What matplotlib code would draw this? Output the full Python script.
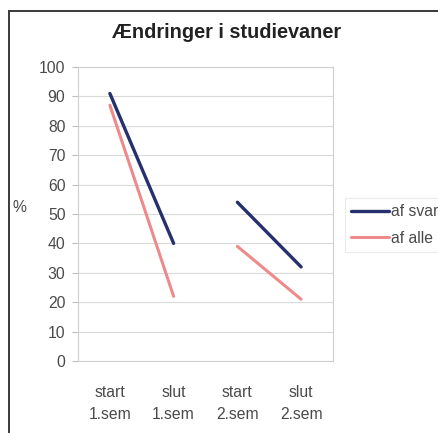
import numpy as np
import matplotlib.pyplot as plt
from matplotlib.patches import Rectangle

plt.rcParams['font.family'] = ['Liberation Sans', 'DejaVu Sans']

categories = ["start\n1.sem", "slut\n1.sem", "start\n2.sem", "slut\n2.sem"]
af_svarende = [91, 40, 54, 32]
af_alle = [87, 22, 39, 21]

W, H = 439, 433
fig = plt.figure(figsize=(W / 100, H / 100), dpi=100)
fig.patch.set_facecolor('white')

# outer chart frame (runs off right and bottom edges)
fig.patches.append(Rectangle((9 / W, -0.1), 1.2, 1 - 11 / H + 0.1,
                             transform=fig.transFigure, fill=False,
                             edgecolor='#3a3a3a', linewidth=1.4))

ax = fig.add_axes([78 / W, 1 - 361 / H, 255 / W, 294 / H])


def with_gap(values):
    # break the line between the two semesters
    v = np.array(values, dtype=float)
    return np.insert(v, 2, np.nan)


xg = with_gap(range(len(categories)))
ax.plot(xg, with_gap(af_svarende), color='#27306e', linewidth=2.4,
        solid_capstyle='round', label='af svarende', zorder=3)
ax.plot(xg, with_gap(af_alle), color='#ee8a8c', linewidth=2.2,
        solid_capstyle='round', label='af alle', zorder=2)

ax.set_xlim(-0.5, 3.5)
ax.set_ylim(0, 100)
ax.set_yticks(range(0, 101, 10))
ax.set_xticks(range(len(categories)))
ax.set_xticklabels(categories, linespacing=1.6)
ax.grid(axis='y', color='#dadada', linewidth=0.8)
ax.set_axisbelow(True)
for s in ax.spines.values():
    s.set_color('#cfcfcf')
    s.set_linewidth(0.8)
ax.tick_params(axis='y', length=4, color='#bfbfbf', pad=5, labelsize=11.3, labelcolor='#4a4a4a')
ax.tick_params(axis='x', length=0, pad=17, labelsize=11.3, labelcolor='#4a4a4a')

fig.text(227 / W, 1 - 33 / H, "Ændringer i studievaner", ha='center', va='center',
         fontsize=14.3, fontweight='bold', color='#222222')
fig.text(19 / W, 1 - 207 / H, "%", ha='center', va='center', fontsize=11.3, color='#4a4a4a')

leg = ax.legend(loc='center left', bbox_to_anchor=(345 / W, 1 - 225 / H),
                bbox_transform=fig.transFigure, frameon=True, fancybox=False,
                fontsize=11.3, handlelength=2.4, handletextpad=0.15,
                labelspacing=0.75, borderaxespad=0, borderpad=0.4)
leg.get_frame().set_edgecolor('#e6e6e6')
leg.get_frame().set_linewidth(0.8)
for t in leg.get_texts():
    t.set_color('#4a4a4a')

fig.savefig('out.png', dpi=100)
